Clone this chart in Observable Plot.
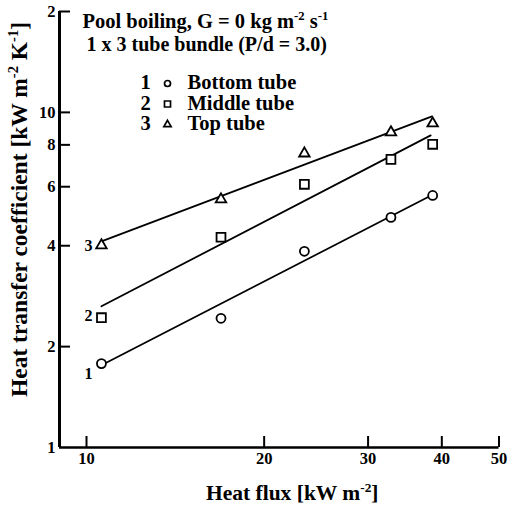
<!DOCTYPE html>
<html><head><meta charset="utf-8">
<script src="https://cdn.jsdelivr.net/npm/d3@7"></script>
<script src="https://cdn.jsdelivr.net/npm/@observablehq/plot@0.6"></script>
<style>
body{margin:0;background:#fff}
#chart svg{font-family:"Liberation Serif","Times New Roman",serif;}
</style>
</head><body><div id="chart"></div>
<script>
// ---- data ----
const seriesNames = ["Bottom tube", "Middle tube", "Top tube"];
const seriesNums = ["1", "2", "3"];
const seriesSymbols = ["circle", "square", "triangle"];
const heatFlux = [10.6, 16.9, 23.4, 32.8, 38.6];            // kW m-2
const bottomH = [1.78, 2.43, 3.85, 4.86, 5.65];              // kW m-2 K-1
const middleH = [2.44, 4.24, 6.10, 7.24, 8.03];
const topH    = [4.01, 5.50, 7.54, 8.72, 9.27];
// fitted lines (end points)
const bottomFitX = [10.8, 38.0], bottomFitH = [1.79, 5.60];
const middleFitX = [10.6, 38.3], middleFitH = [2.64, 8.54];
const topFitX    = [10.6, 38.5], topFitH    = [4.12, 9.73];
// axes
const xTicks = [10, 20, 30, 40, 50];
const yTicks = [1, 2, 4, 6, 8, 10, 20];
const yTickLabels = ["1", "2", "4", "6", "8", "10", "2"];
const title1 = "Pool boiling, G = 0 kg m^{-2} s^{-1}";
const title2 = "1 x 3 tube bundle (P/d = 3.0)";
const xLabel = "Heat flux [kW m^{-2}]";
const yLabel = "Heat transfer coefficient [kW m^{-2} K^{-1}]";

// ---- tables ----
const values = [bottomH, middleH, topH];
const fits = [[bottomFitX, bottomFitH], [middleFitX, middleFitH], [topFitX, topFitH]];
const points = [];
seriesNames.forEach((s, i) => heatFlux.forEach((x, j) => points.push({series: s, i, x, h: values[i][j]})));
const fitRows = [];
seriesNames.forEach((s, i) => fits[i][0].forEach((x, j) => fitRows.push({series: s, x, h: fits[i][1][j]})));
const yLabelMap = new Map(yTicks.map((t, i) => [t, yTickLabels[i]]));

const FONT = '"Liberation Serif","Times New Roman",serif';
const symR = [4.5, 5, 3.9];
const legR = [3, 3.4, 2.7];
const numDy = [10, -2, 1];

const marks = [
  Plot.ruleY([1], {strokeWidth: 2.5}),
  Plot.ruleX([9], {strokeWidth: 3}),
  Plot.axisX(xTicks, {tickSize: -11, tickPadding: 16, strokeWidth: 2, tickFormat: d => String(d),
    fontSize: 16.5, fontWeight: "bold", label: null}),
  Plot.axisY(yTicks.filter(t => t !== 1), {tickSize: -11, tickPadding: 15, strokeWidth: 2, text: null, label: null}),
  Plot.axisY(yTicks, {tickSize: 0, tickPadding: 4, tickFormat: d => yLabelMap.get(d),
    fontSize: 16.5, fontWeight: "bold", label: null}),
  Plot.line(fitRows, {x: "x", y: "h", z: "series", stroke: "black", strokeWidth: 1.8}),
];
seriesNames.forEach((s, i) => {
  marks.push(Plot.dot(points.filter(d => d.i === i), {x: "x", y: "h", symbol: seriesSymbols[i], r: symR[i],
    stroke: "black", strokeWidth: 1.8, fill: "white"}));
  marks.push(Plot.text(points.filter(d => d.i === i).slice(0, 1), {x: "x", y: "h", text: () => seriesNums[i],
    dx: -13, dy: numDy[i], fontSize: 16, fontWeight: "bold"}));
  // legend
  marks.push(Plot.text([seriesNums[i]], {frameAnchor: "top-left", textAnchor: "middle", lineAnchor: "middle",
    dx: 86, dy: 71 + i * 20.5, fontSize: 20.5, fontWeight: "bold"}));
  marks.push(Plot.dot([0], {frameAnchor: "top-left", dx: 108, dy: 72 + i * 20.5, symbol: seriesSymbols[i],
    r: legR[i], stroke: "black", strokeWidth: 1.7, fill: "none"}));
  marks.push(Plot.text([seriesNames[i]], {frameAnchor: "top-left", textAnchor: "start", lineAnchor: "middle",
    dx: 128, dy: 71 + i * 20.5, fontSize: 20.5, fontWeight: "bold"}));
});
marks.push(
  Plot.text([title1], {frameAnchor: "top-left", textAnchor: "start", lineAnchor: "middle", dx: 23, dy: 10,
    fontSize: 20.5, fontWeight: "bold"}),
  Plot.text([title2], {frameAnchor: "top-left", textAnchor: "start", lineAnchor: "middle", dx: 27, dy: 33,
    fontSize: 20, fontWeight: "bold"}),
  Plot.text([xLabel], {frameAnchor: "bottom", textAnchor: "middle", lineAnchor: "middle", dx: 13, dy: 46,
    fontSize: 21.5, fontWeight: "bold"}),
  Plot.text([yLabel], {frameAnchor: "left", textAnchor: "middle", lineAnchor: "middle", rotate: -90, dx: -40, dy: -20,
    fontSize: 23.5, fontWeight: "bold"})
);

const chart = Plot.plot({
  width: 509, height: 507,
  marginLeft: 59, marginRight: 10.5, marginTop: 11, marginBottom: 60,
  style: {fontFamily: FONT, color: "#000", background: "#fff", overflow: "visible"},
  x: {type: "log", domain: [9, 50]},
  y: {type: "log", domain: [1, 20]},
  marks
});
document.getElementById("chart").appendChild(chart);

// superscripts: "^{...}"
d3.select(chart).selectAll("text").each(function () {
  const t = this.textContent;
  if (!t.includes("^{")) return;
  const fs = parseFloat(getComputedStyle(this).fontSize) || 16;
  const shift = fs * 0.4;
  const sel = d3.select(this);
  sel.text(null);
  let raised = false;
  t.split(/(\^\{[^}]*\})/).forEach(p => {
    if (!p) return;
    const m = p.match(/^\^\{(.*)\}$/);
    if (m) {
      sel.append("tspan").attr("dy", -shift).attr("font-size", fs * 0.62).text(m[1]);
      raised = true;
    } else {
      const ts = sel.append("tspan").text(p);
      if (raised) { ts.attr("dy", shift); raised = false; }
    }
  });
});
</script>
</body></html>
